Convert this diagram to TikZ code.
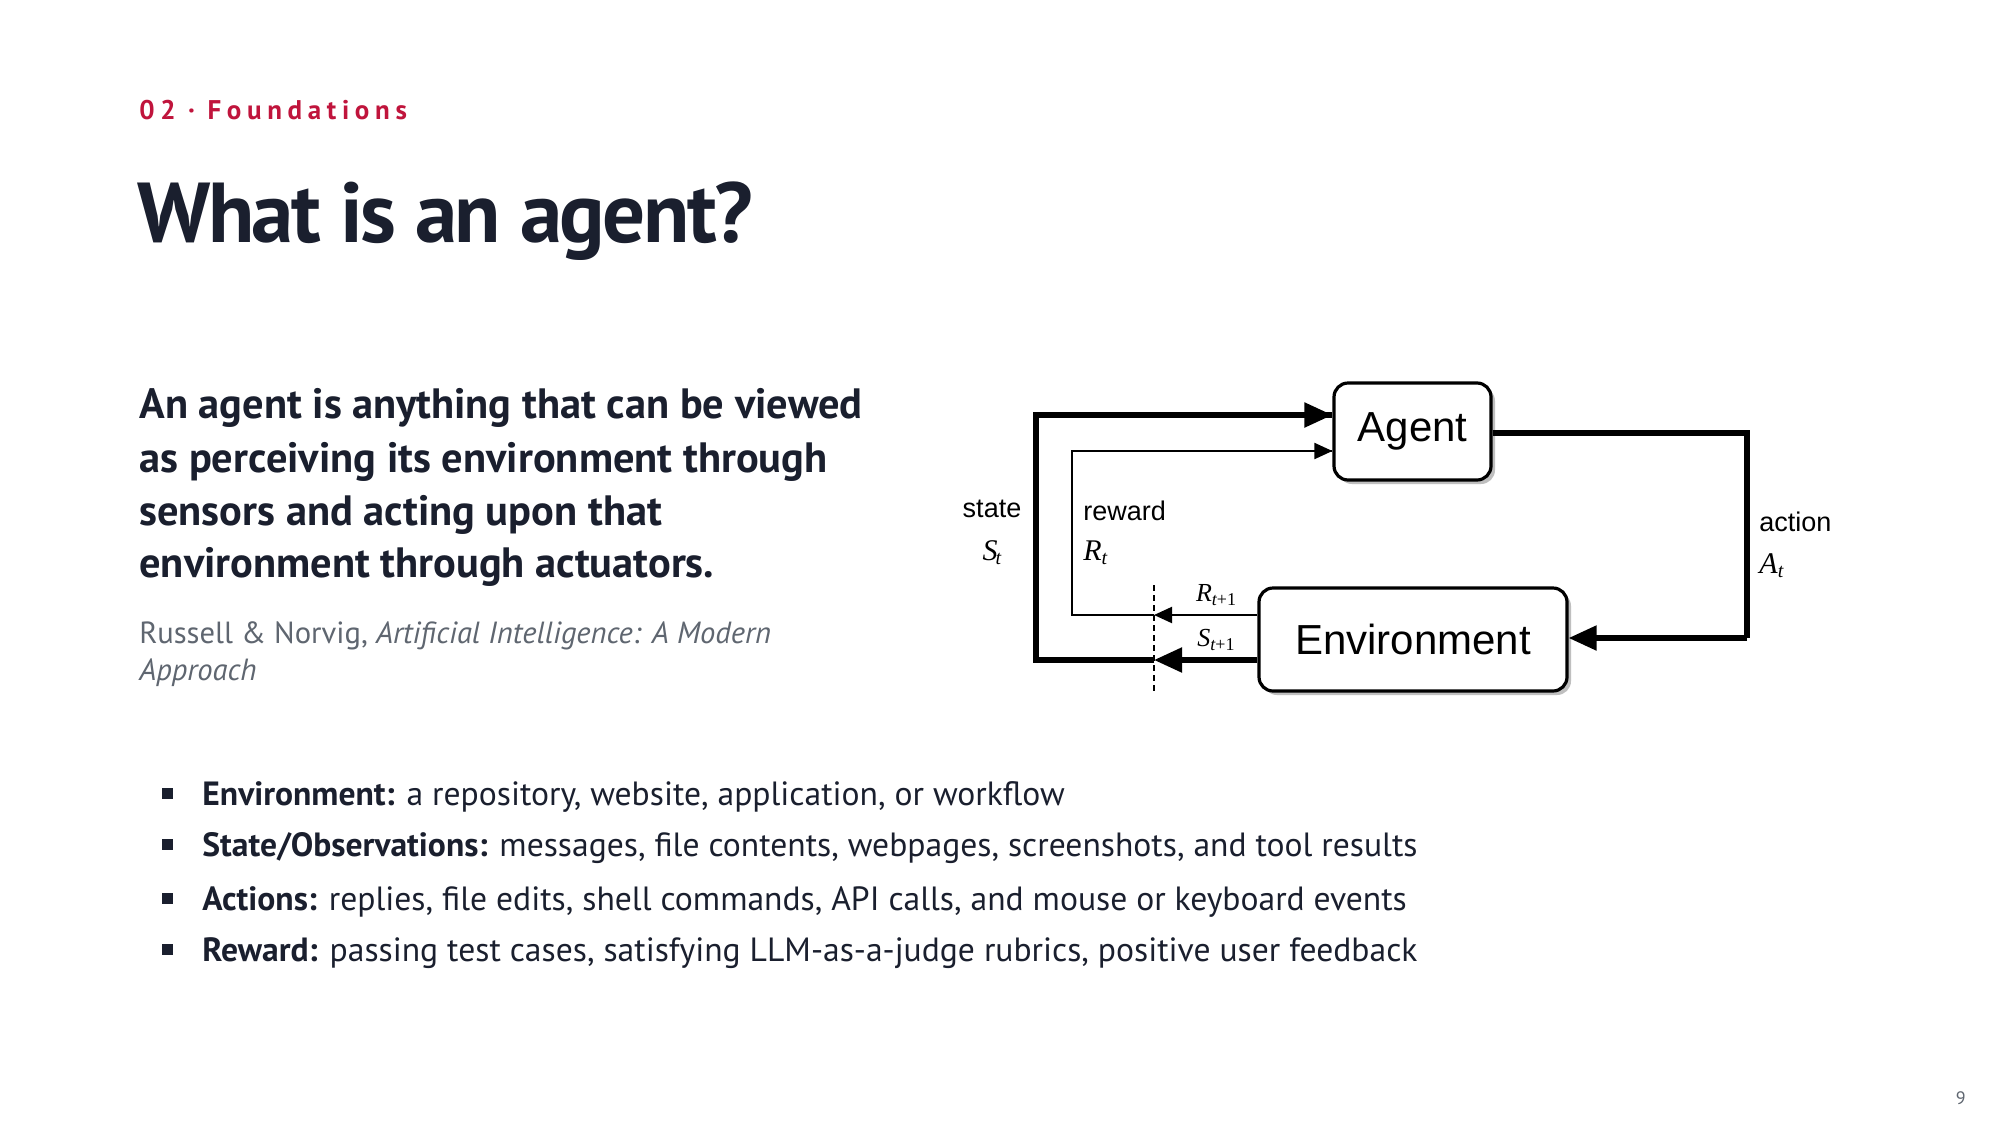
\documentclass[tikz,border=0pt]{standalone}
\usepackage{fontspec}
\setmainfont{PT Sans}
\newfontfamily\dia{Liberation Sans}
\newfontfamily\mth{Liberation Serif}
\usetikzlibrary{arrows.meta}
\definecolor{hdr}{HTML}{C0143C}
\definecolor{ink}{HTML}{1A1F2E}
\definecolor{cite}{HTML}{5F6670}
\begin{document}
\begin{tikzpicture}[x=0.5pt,y=-0.5pt,
  txt/.style={anchor=base west,inner sep=0,text=ink},
  para/.style={txt,font=\fontsize{21.2}{24}\selectfont\bfseries},
  bul/.style={txt,font=\fontsize{16.8}{20}\selectfont},
  box/.style={draw,line width=1.6pt,rounded corners=7pt,font=\dia\fontsize{21}{24}\selectfont},
  thick/.style={line width=2.6pt},
  thin/.style={line width=1pt},
  lab/.style={inner sep=0,font=\dia\fontsize{13.5}{16}\selectfont},
  mlab/.style={inner sep=0,font=\mth\itshape\fontsize{15}{18}\selectfont},
  slab/.style={inner sep=0,font=\mth\itshape\fontsize{13}{16}\selectfont}]
\useasboundingbox (0,0) rectangle (2000,1125);
\fill[white] (0,0) rectangle (2000,1125);
\node[txt,text=hdr,font=\fontsize{13.5}{16}\selectfont\bfseries\addfontfeature{LetterSpace=21}] (h) at (139,119) {02 · Foundations};
\node[txt,font=\fontsize{42.5}{50}\selectfont\bfseries\addfontfeature{LetterSpace=-3}] (t) at (137,242) {What is an agent?};
\node[para] (p1) at (139,418) {An agent is anything that can be viewed};
\node[para] (p2) at (139,472) {as perceiving its environment through};
\node[para] (p3) at (139,525) {sensors and acting upon that};
\node[para] (p4) at (139,577) {environment through actuators.};
\node[txt,text=cite,font=\fontsize{15.3}{18}\selectfont] (c1) at (139,643) {Russell \& Norvig, \textit{Artificial Intelligence: A Modern}};
\node[txt,text=cite,font=\fontsize{15.3}{18}\selectfont] (c2) at (139,680) {\textit{Approach}};
\foreach \y/\n/\b/\r in {805/b1/Environment:/{a repository, website, application, or workflow},
  856/b2/State\slash Observations:/{messages, file contents, webpages, screenshots, and tool results},
  910/b3/Actions:/{replies, file edits, shell commands, API calls, and mouse or keyboard events},
  961/b4/Reward:/{passing test cases, satisfying LLM-as-a-judge rubrics, positive user feedback}}{
  \fill[ink] (162,\y-17) rectangle (173,\y-6);
  \node[bul] (\n) at (202,\y) {\textbf{\b} \r};
}
\node[anchor=base east,inner sep=0,text=cite,font=\fontsize{9}{10}\selectfont] (pg) at (1966,1104) {9};
% diagram
\begin{scope}[xshift=-5pt]
\fill[black!25,rounded corners=7pt] (1348,387) rectangle (1505,484);
\node[box,fill=white,minimum width=78.5pt,minimum height=48.5pt] (ag) at (1422.5,431.5) {Agent};
\fill[black!25,rounded corners=7pt] (1273,592) rectangle (1581,695);
\node[box,fill=white,minimum width=154pt,minimum height=51.5pt] (env) at (1423,639.5) {Environment};
\coordinate (dt) at (1164,585);
\coordinate (db) at (1164,692);
\draw[thin,dash pattern=on 3pt off 2pt] (dt) -- (db);
\coordinate (sL) at (1046,660);
\coordinate (sT) at (1046,415);
\coordinate (rL) at (1082,615);
\coordinate (rT) at (1082,451);
\draw[thick,-{Triangle[length=14pt,width=12pt]}] (env.west |- 0,660) -- (1164,660);
\draw[thick] (1164,660) -- (sL) -- (sT) -- (ag.west |- sT);
\draw[thick,-{Triangle[length=14pt,width=12pt]}] (1300,415) -- (ag.west |- sT);
\draw[thin,-{Triangle[length=9pt,width=8pt]}] (env.west |- 0,615) -- (1164,615);
\draw[thin] (1164,615) -- (rL) -- (rT) -- (ag.west |- rT);
\draw[thin,-{Triangle[length=9pt,width=8pt]}] (1300,451) -- (ag.west |- rT);
\coordinate (aR) at (1757,433);
\coordinate (aB) at (1757,638);
\draw[thick] (ag.east |- aR) -- (aR) -- (aB);
\draw[thick,-{Triangle[length=14pt,width=12pt]}] (aB) -- (env.east |- aB);
\node[lab] (ls) at (1002,509) {state};
\node[mlab] (lS) at (1002,553) {S\kern-1pt\raisebox{-2pt}{\fontsize{10}{10}\selectfont t}};
\node[lab,anchor=west] (lr) at (1093,511) {reward};
\node[mlab,anchor=west] (lR) at (1093,553) {R\raisebox{-2pt}{\fontsize{10}{10}\selectfont t}};
\node[lab,anchor=west] (la) at (1769,522) {action};
\node[mlab,anchor=west] (lA) at (1769,566) {A\raisebox{-2pt}{\fontsize{10}{10}\selectfont t}};
\node[slab] (lR1) at (1226,595) {R\raisebox{-2pt}{\fontsize{9}{9}\selectfont t\upshape +1}};
\node[slab] (lS1) at (1226,640) {S\raisebox{-2pt}{\fontsize{9}{9}\selectfont t\upshape +1}};
\end{scope}
\end{tikzpicture}
\end{document}
